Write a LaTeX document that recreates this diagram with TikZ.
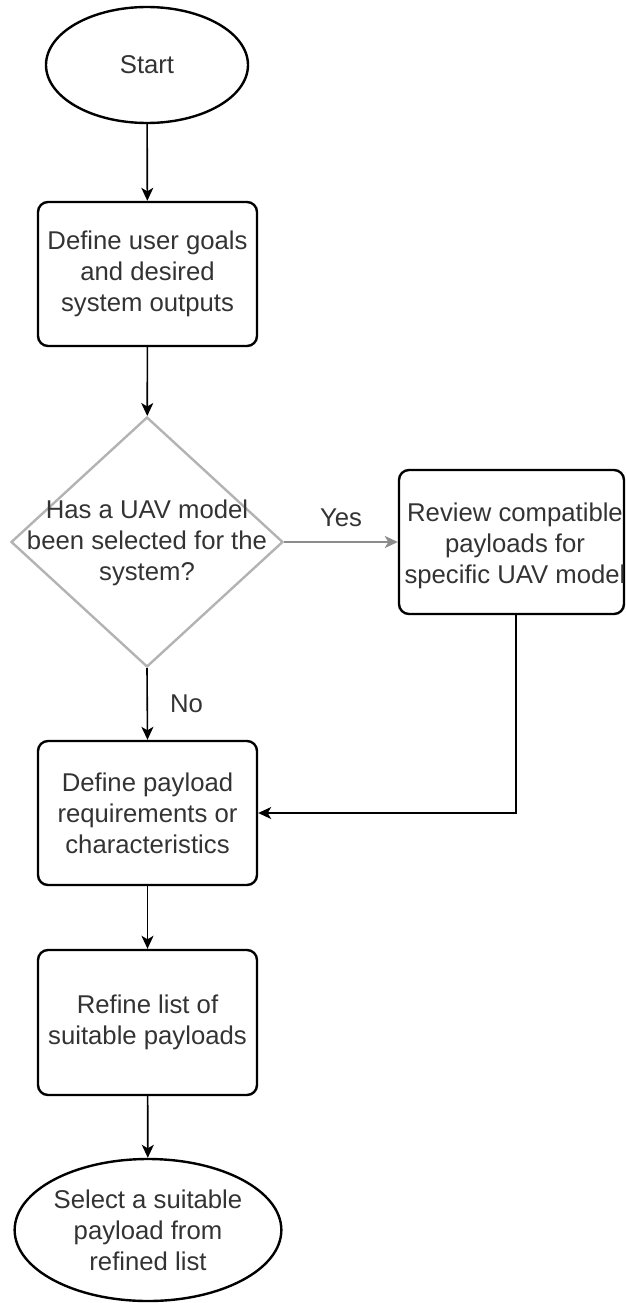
\documentclass[tikz,border=0pt]{standalone}
\usepackage{fontspec}
\setmainfont{Liberation Sans}
\usetikzlibrary{shapes.geometric,arrows.meta}
\definecolor{txt}{HTML}{333333}
\definecolor{decline}{HTML}{B3B3B3}
\definecolor{yesline}{HTML}{8C8C8C}
\begin{document}
\begin{tikzpicture}[x=1pt,y=-1pt,
  every node/.style={font=\fontsize{25.7pt}{31pt}\selectfont, text=txt, align=center},
  terminal/.style={draw=black, line width=2.4pt, ellipse, inner sep=0pt},
  process/.style={draw=black, line width=2.4pt, rounded corners=10pt, inner sep=0pt,
                  minimum width=219pt, minimum height=144pt},
  decision/.style={draw=decline, line width=2.4pt, diamond, inner sep=0pt,
                   minimum width=272pt, minimum height=250pt},
  flow/.style={draw=black, line width=1.6pt, -{Stealth[length=13pt,width=12pt,inset=3.5pt]}},
  lbl/.style={inner sep=0pt}
]
\useasboundingbox (0,0) rectangle (626,1303);

% shapes
\node[terminal, minimum width=202pt, minimum height=116pt] (start) at (147,65) {Start};
\node[process] (goals) at (147.5,274) {Define user goals\\and desired\\system outputs};
\node[decision] (uav) at (147,542) {};
\node[lbl] (uavtext) at (147,543) {Has a UAV model\\been selected for the\\system?};
\node[process, minimum width=225pt] (review) at (511.5,542) {};
\node[lbl] (reviewtext) at (515,546) {Review compatible\\payloads for\\specific UAV model};
\node[process] (reqs) at (147.5,813) {Define payload\\requirements or\\characteristics};
\node[process, minimum height=145pt] (refine) at (147.5,1022.5) {Refine list of\\suitable payloads};
\node[terminal, minimum width=234pt, minimum height=142pt] (select) at (148,1230)
  {Select a suitable\\payload from\\refined list};

% connectors
\draw[flow] (start) -- (goals);
\draw[flow] (goals) -- (uav);
\draw[flow, draw=yesline, line width=2.2pt] (uav.east) -- node[lbl, above=14pt] (yes) {Yes} (review.west);
\draw[flow] (uav.south) -- node[lbl, right=22pt] (no) {No} (reqs.north);
\coordinate (revout) at ([xshift=4.5pt]review.south);
\draw[flow] (revout) |- (reqs.east);
\draw[flow] (reqs) -- (refine);
\draw[flow] (refine) -- (select);
\end{tikzpicture}
\end{document}
